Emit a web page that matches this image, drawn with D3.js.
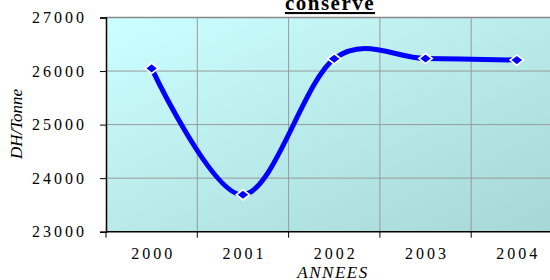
<!DOCTYPE html>
<html>
<head>
<meta charset="utf-8">
<script src="https://cdn.jsdelivr.net/npm/d3@7"></script>
<style>
  body { margin: 0; background: #fff; }
  svg { display: block; }
  text { font-family: "Liberation Serif", "Times New Roman", serif; }
</style>
</head>
<body>
<div id="chart"></div>
<script>
// data
const years = ["2000", "2001", "2002", "2003", "2004"];
const prices = [26050, 23690, 26230, 26235, 26205];
const yTicks = [23000, 24000, 25000, 26000, 27000];

const W = 550, H = 280;
const plot = { left: 106, top: 17.5, bottom: 231.7, band: 91.3 };

const svg = d3.select("#chart").append("svg")
  .attr("width", W).attr("height", H);

const defs = svg.append("defs");
const grad = defs.append("linearGradient")
  .attr("id", "bg").attr("x1", "0%").attr("y1", "0%").attr("x2", "100%").attr("y2", "100%");
grad.append("stop").attr("offset", "0%").attr("stop-color", "#ccffff");
grad.append("stop").attr("offset", "100%").attr("stop-color", "#a6d6d6");

const x = d3.scaleBand()
  .domain(years)
  .range([plot.left, plot.left + plot.band * years.length]);

const y = d3.scaleLinear()
  .domain([23000, 27000])
  .range([plot.bottom, plot.top]);

// plot background
svg.append("rect")
  .attr("x", x.range()[0]).attr("y", plot.top)
  .attr("width", x.range()[1] - x.range()[0])
  .attr("height", plot.bottom - plot.top)
  .attr("fill", "url(#bg)");

// horizontal grid
svg.append("g")
  .selectAll("line")
  .data(yTicks.slice(1))
  .join("line")
  .attr("x1", x.range()[0]).attr("x2", x.range()[1])
  .attr("y1", d => y(d)).attr("y2", d => y(d))
  .attr("stroke", d => d === 27000 ? "#888" : "#999")
  .attr("stroke-width", d => d === 27000 ? 1.5 : 1);

// vertical grid at band boundaries
svg.append("g")
  .selectAll("line")
  .data(years.slice(1))
  .join("line")
  .attr("x1", d => x(d)).attr("x2", d => x(d))
  .attr("y1", plot.top).attr("y2", plot.bottom)
  .attr("stroke", "#999").attr("stroke-width", 1);

// y axis
const yAxis = svg.append("g")
  .attr("transform", `translate(${plot.left},0)`)
  .call(d3.axisLeft(y).tickValues(yTicks).tickSize(6).tickPadding(13).tickFormat(d3.format("d")));
yAxis.select(".domain").attr("stroke", "#000").attr("stroke-width", 1.5);
yAxis.selectAll(".tick line").attr("stroke", "#000");
yAxis.selectAll("text")
  .attr("font-size", 16).attr("letter-spacing", "3px")
  .attr("fill", "#000");

// x axis with ticks on band boundaries
const xAxis = svg.append("g")
  .attr("transform", `translate(0,${plot.bottom})`)
  .call(d3.axisBottom(x).tickSize(0).tickPadding(16));
xAxis.select(".domain").remove();
xAxis.append("line")
  .attr("x1", x.range()[0]).attr("x2", x.range()[1])
  .attr("stroke", "#000").attr("stroke-width", 1.5);
xAxis.selectAll(".boundary")
  .data(years)
  .join("line")
  .attr("class", "boundary")
  .attr("x1", d => x(d)).attr("x2", d => x(d))
  .attr("y1", 0).attr("y2", 6)
  .attr("stroke", "#000");
xAxis.selectAll(".tick text")
  .attr("font-size", 16).attr("letter-spacing", "3px")
  .attr("dx", "1.5px")
  .attr("fill", "#000");

// smoothed line
const pts = years.map((d, i) => [x(d) + x.bandwidth() / 2, y(prices[i])]);
svg.append("path")
  .attr("d", d3.line().curve(d3.curveCardinal.tension(0))(pts))
  .attr("fill", "none")
  .attr("stroke", "#0000ff")
  .attr("stroke-width", 5)
  .attr("stroke-linejoin", "round");

// diamond markers, a bit wider than tall
svg.append("g")
  .selectAll("path")
  .data(pts)
  .join("path")
  .attr("transform", d => `translate(${d[0]},${d[1]}) scale(1.3,1)`)
  .attr("d", d3.symbol(d3.symbolDiamond2, 66))
  .attr("fill", "#0000ff")
  .attr("stroke", "#fff")
  .attr("stroke-width", 1.5);

// title (cut off at top in reference)
svg.append("text")
  .attr("x", 330).attr("y", 10)
  .attr("text-anchor", "middle")
  .attr("font-size", 21).attr("font-weight", "bold")
  .attr("letter-spacing", "1.5px")
  .attr("text-decoration", "underline")
  .text("conserve");

// axis titles
svg.append("text")
  .attr("transform", "translate(22,124) rotate(-90)")
  .attr("text-anchor", "middle")
  .attr("font-size", 17).attr("font-style", "italic")
  .text("DH/Tonne");

svg.append("text")
  .attr("x", 333).attr("y", 278)
  .attr("text-anchor", "middle")
  .attr("font-size", 17).attr("font-style", "italic")
  .attr("letter-spacing", "1.5px")
  .text("ANNEES");
</script>
</body>
</html>
